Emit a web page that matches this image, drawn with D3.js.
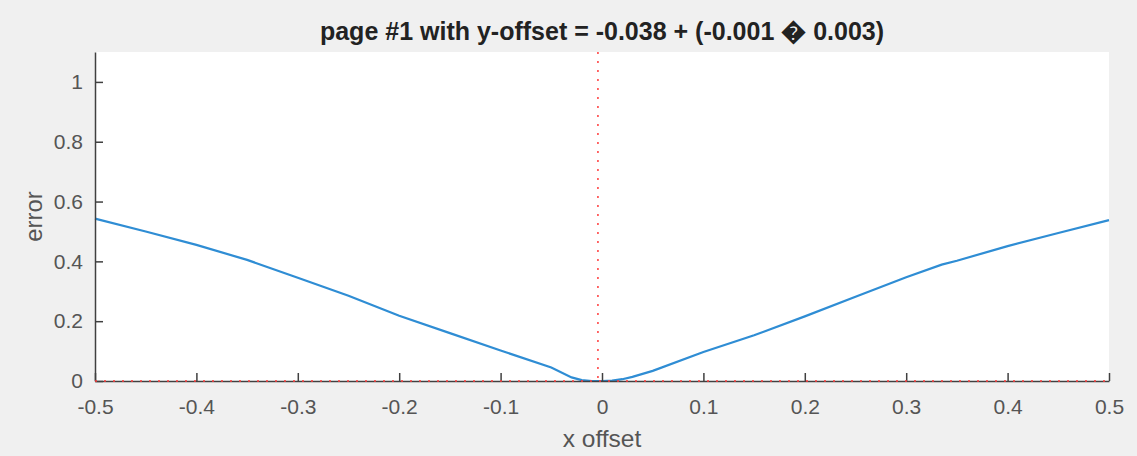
<!DOCTYPE html>
<html>
<head>
<meta charset="utf-8">
<script src="https://cdn.jsdelivr.net/npm/d3@7"></script>
<style>
  html, body { margin: 0; padding: 0; background: #f0f0f0; }
  svg { display: block; }
</style>
</head>
<body>
<svg id="chart" width="1137" height="456"></svg>
<script>
// ---- data ----
const xOffsets = [-0.5, -0.45, -0.4, -0.35, -0.3, -0.25, -0.2, -0.15, -0.1, -0.05, -0.03, -0.02, -0.01, 0,
                  0.01, 0.02, 0.03, 0.05, 0.1, 0.15, 0.2, 0.25, 0.3, 0.335, 0.35, 0.4, 0.45, 0.5];
const errors    = [0.543, 0.50, 0.455, 0.405, 0.345, 0.285, 0.218, 0.16, 0.102, 0.045, 0.012, 0.003, 0.0, 0.0,
                   0.001, 0.006, 0.014, 0.034, 0.097, 0.153, 0.216, 0.282, 0.347, 0.389, 0.402, 0.451, 0.495, 0.538];
const xTicks = [-0.5, -0.4, -0.3, -0.2, -0.1, 0, 0.1, 0.2, 0.3, 0.4, 0.5];
const yTicks = [0, 0.2, 0.4, 0.6, 0.8, 1];
const bestX = -0.004;
const titleText = "page #1 with y-offset = -0.038 + (-0.001 \uFFFD 0.003)";
const xLabel = "x offset";
const yLabel = "error";

// ---- layout ----
const svg = d3.select("#chart");
const pL = 95, pR = 1109, pT = 52, pB = 381;
const x = d3.scaleLinear().domain([-0.5, 0.5]).range([pL, pR]);
const y = d3.scaleLinear().domain([0, 1.1]).range([pB, pT]);
const font = "'Liberation Sans', Arial, Helvetica, sans-serif";

svg.append("rect").attr("x", pL).attr("y", pT)
  .attr("width", pR - pL).attr("height", pB - pT).attr("fill", "#ffffff");

// data line
const line = d3.line().x((d, i) => x(xOffsets[i])).y(d => y(d));
svg.append("path").datum(errors)
  .attr("d", line).attr("fill", "none")
  .attr("stroke", "#2f8dd4").attr("stroke-width", 2.2);

// axes
const fmt = d => d === 0 ? "0" : String(+d.toFixed(1));
const xAxis = d3.axisBottom(x).tickValues(xTicks).tickSizeInner(-8).tickSizeOuter(0)
  .tickPadding(18).tickFormat(fmt);
const gx = svg.append("g").attr("transform", `translate(0,${pB})`).call(xAxis);
const yAxis = d3.axisLeft(y).tickValues(yTicks).tickSizeInner(-8).tickSizeOuter(0)
  .tickPadding(12).tickFormat(fmt);
const gy = svg.append("g").attr("transform", `translate(${pL},0)`).call(yAxis);

[gx, gy].forEach(g => {
  g.select(".domain").attr("stroke", "#404040").attr("stroke-width", 1.5);
  g.selectAll(".tick line").attr("stroke", "#404040").attr("stroke-width", 1.5);
  g.selectAll(".tick text").attr("fill", "#555555")
    .style("font-family", font).style("font-size", "21px");
});

// red dotted reference lines
svg.append("line")
  .attr("x1", x(-0.5)).attr("x2", x(0.5)).attr("y1", y(0)).attr("y2", y(0))
  .attr("stroke", "#ff3b3b").attr("stroke-width", 1.5).attr("stroke-dasharray", "2,7");
svg.append("line")
  .attr("x1", x(bestX)).attr("x2", x(bestX)).attr("y1", y(1.1)).attr("y2", y(0))
  .attr("stroke", "#ff3b3b").attr("stroke-width", 1.5).attr("stroke-dasharray", "2,7");

// title and labels
svg.append("text").attr("x", (pL + pR) / 2).attr("y", 40)
  .attr("text-anchor", "middle").attr("fill", "#222")
  .style("font-family", font).style("font-size", "25px").style("font-weight", "bold")
  .text(titleText);
svg.append("text").attr("x", (pL + pR) / 2).attr("y", 447)
  .attr("text-anchor", "middle").attr("fill", "#555555")
  .style("font-family", font).style("font-size", "24.5px")
  .text(xLabel);
svg.append("text").attr("transform", `translate(42,${(pT + pB) / 2}) rotate(-90)`)
  .attr("text-anchor", "middle").attr("fill", "#555555")
  .style("font-family", font).style("font-size", "24px")
  .text(yLabel);
</script>
</body>
</html>
